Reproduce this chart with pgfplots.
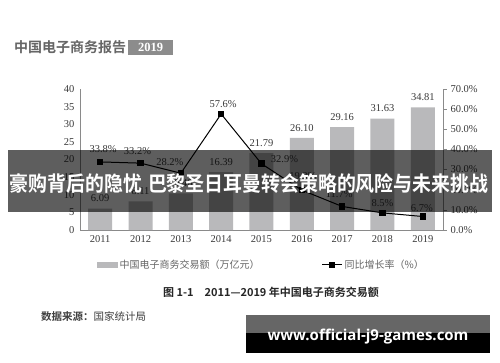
\documentclass[border=0pt]{standalone}
\usepackage{fontspec}
\usepackage{pgfplots}
\usepackage{pgfplotstable}
\pgfplotsset{compat=1.18}
\setmainfont{Liberation Serif}
\newfontfamily\cjk[BoldFont={Noto Sans CJK SC Bold}]{Noto Sans CJK SC}
\newfontfamily\wm{Open Sans}
\definecolor{bargray}{HTML}{B9B9BB}
\definecolor{txt}{HTML}{3A3A3A}
\definecolor{axgray}{HTML}{8A8A8A}

\pgfplotstableread{
x year val rate dx dy
0 2011 6.09 33.8 3 13
1 2012 8.11 33.2 -3 12
2 2013 10.40 28.2 -11 11
3 2014 16.39 57.6 2 10
4 2015 21.79 32.9 23 5
5 2016 26.10 19.8 1 14
6 2017 29.16 11.7 -3 12
7 2018 31.63 8.5 0 10
8 2019 34.81 6.7 -1 8
}\data

\begin{document}
\begin{tikzpicture}[x=1pt,y=1pt]
\fill[white] (0,0) rectangle (500,362);
% title
\node[anchor=west, text=black!60, inner sep=0] at (14,315) {\cjk\bfseries\fontsize{14}{15}\selectfont 中国电子商务报告};
\fill[black!45] (128,307) rectangle (173,322);
\node[text=white, inner sep=0] at (150.5,314.5) {\bfseries\fontsize{12.5}{13}\selectfont 2019};

\begin{axis}[at={(80pt,132pt)}, anchor=south west, scale only axis,
  width=363pt, height=141pt,
  xmin=-0.5, xmax=8.5, ymin=0, ymax=40,
  xtick={0,...,8}, xticklabels={2011,2012,2013,2014,2015,2016,2017,2018,2019},
  ytick={0,5,...,40},
  axis x line*=bottom, axis y line*=left,
  axis line style={axgray, line width=0.7pt},
  major tick length=0pt,
  /pgf/number format/assume math mode=true,
  tick label style={font=\fontsize{10.5}{12}\selectfont, text=txt},
  xticklabel style={yshift=-2pt},
  yticklabel style={xshift=-2pt},
  clip=false]
\addplot[ybar, bar width=24pt, fill=bargray, draw=none,
  nodes near coords={\pgfmathprintnumber[fixed,fixed zerofill,precision=2]{\pgfplotspointmeta}},
  nodes near coords style={font=\fontsize{10.5}{12}\selectfont, text=txt, anchor=center, yshift=10pt, inner sep=0pt}]
  table[x=x, y=val]{\data};
\end{axis}

\begin{axis}[at={(80pt,132pt)}, anchor=south west, scale only axis,
  width=363pt, height=141pt,
  xmin=-0.5, xmax=8.5, ymin=0, ymax=70,
  hide x axis, axis y line*=right,
  axis line style={axgray, line width=0.7pt},
  ytick={0,10,...,70},
  yticklabel={\pgfmathprintnumber[fixed,fixed zerofill,precision=1]{\tick}\%},
  tick align=outside, major tick length=4pt, tick style={axgray, line width=0.7pt},
  /pgf/number format/assume math mode=true,
  tick label style={font=\fontsize{10.5}{12}\selectfont, text=txt},
  clip=false,
  legend columns=2,
  legend style={at={(0.5,-0.248)}, anchor=center, draw=none, fill=none,
    font=\cjk\fontsize{10}{12}\selectfont, text=black!60,
    /tikz/every even column/.append style={column sep=60pt}},
  ]
\addlegendimage{legend image code/.code={\fill[bargray] (0pt,-2.5pt) rectangle (20pt,2.5pt);}}
\addlegendentry{中国电子商务交易额（万亿元）}
\addplot[black, line width=1pt, mark=square*, mark size=2.8pt,
  visualization depends on={\thisrow{dx} \as \dx},
  visualization depends on={\thisrow{dy} \as \dy},
  nodes near coords={\pgfmathprintnumber[fixed,fixed zerofill,precision=1]{\pgfplotspointmeta}\%},
  nodes near coords style={font=\fontsize{10.5}{12}\selectfont, text=txt, anchor=center, xshift=\dx, yshift=\dy, inner sep=0pt},
  legend image code/.code={\draw[black, line width=1pt] (0pt,0pt) -- (20pt,0pt); \fill[black] (7pt,-2.8pt) rectangle (12.6pt,2.8pt);}]
  table[x=x, y=rate]{\data};
\addlegendentry{同比增长率（\%）}
\end{axis}

% caption and source
\node[text=black!85, inner sep=0] at (271,70) {\cjk\bfseries\fontsize{11}{12}\selectfont 图 1-1\quad 2011—2019 年中国电子商务交易额};
\node[anchor=west, text=black!75, inner sep=0] at (41,45) {\cjk\fontsize{10.5}{12}\selectfont {\bfseries 数据来源：}国家统计局};

% overlay banner
\fill[black, opacity=0.63] (8,150) rectangle (492,212);
\node[text=white, inner sep=0] at (249,178) {\scalebox{1}[1.1]{\cjk\bfseries\fontsize{18.9}{20}\selectfont 豪购背后的隐忧\hspace{6pt}巴黎圣日耳曼转会策略的风险与未来挑战}};

% watermark
\fill[black] (246,9) rectangle (490,47);
\fill[black!60] (246,29) rectangle (490,47);
\node[text=white, inner sep=0] at (368,25) {\wm\bfseries\fontsize{15}{17}\selectfont www.official-j9-games.com};
\end{tikzpicture}
\end{document}
